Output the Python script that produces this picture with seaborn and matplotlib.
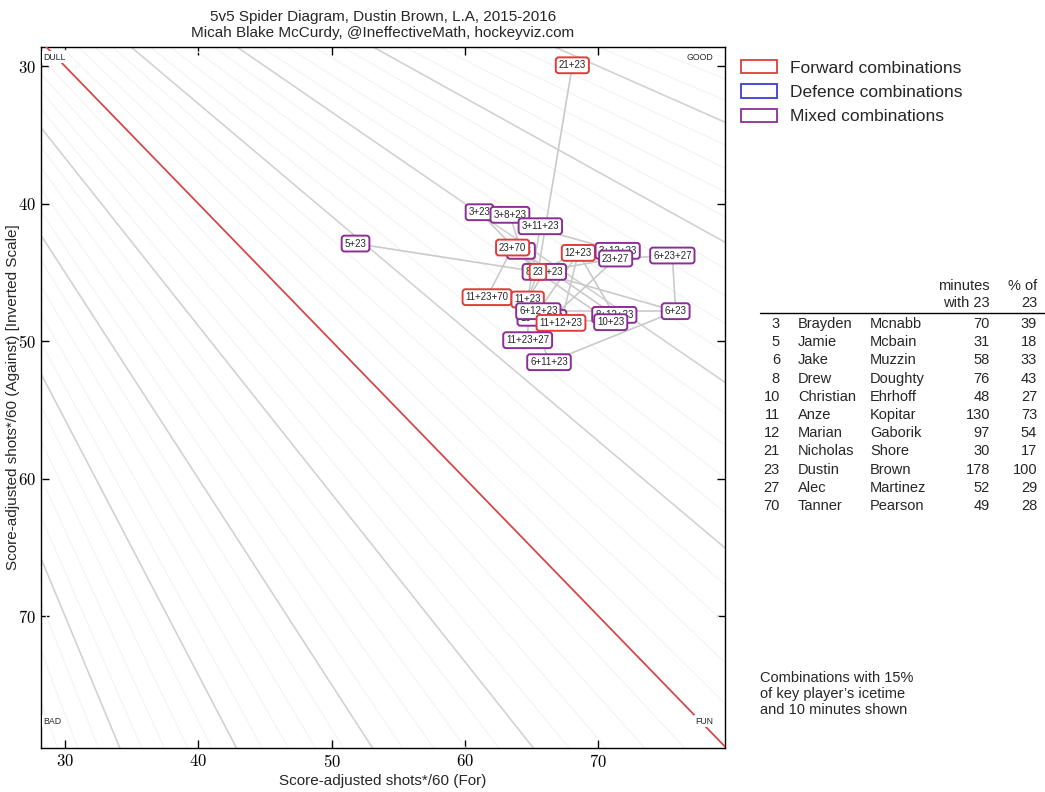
import numpy as np
import pandas as pd
import seaborn as sns
import matplotlib.pyplot as plt
from matplotlib.patches import Patch
from matplotlib.ticker import FixedLocator, FuncFormatter

# combinations of Dustin Brown (23) with teammates: label, shots for /60, shots against /60
combo_labels = ["21+23", "3+23", "3+8+23", "3+11+23", "5+23", "8+23", "23+70",
                "12+23", "3+12+23", "23+27", "6+23+27", "8+11+23", "23",
                "11+23+70", "11+23", "10+11+23", "6+12+23", "11+12+23",
                "8+12+23", "10+23", "6+23", "11+23+27", "6+11+23"]
combo_for = [68.05, 61.09, 63.37, 65.65, 51.79, 64.2, 63.57,
             68.5, 71.45, 71.3, 75.55, 65.95, 65.47,
             61.65, 64.7, 65.77, 65.5, 67.2,
             71.2, 70.93, 75.8, 64.7, 66.3]
combo_against = [29.93, 40.62, 40.81, 41.64, 42.9, 43.43, 43.19,
                 43.58, 43.43, 43.99, 43.77, 44.96, 44.96,
                 46.8, 46.97, 48.3, 47.82, 48.67,
                 48.09, 48.62, 47.82, 49.93, 51.53]

defencemen = [3, 5, 6, 8, 10, 27]

# table of teammates
jerseys = [3, 5, 6, 8, 10, 11, 12, 21, 23, 27, 70]
first_names = ["Brayden", "Jamie", "Jake", "Drew", "Christian", "Anze", "Marian",
               "Nicholas", "Dustin", "Alec", "Tanner"]
last_names = ["Mcnabb", "Mcbain", "Muzzin", "Doughty", "Ehrhoff", "Kopitar", "Gaborik",
              "Shore", "Brown", "Martinez", "Pearson"]
minutes_with = [70, 31, 58, 76, 48, 130, 97, 30, 178, 52, 49]
pct_of = [39, 18, 33, 43, 27, 73, 54, 17, 100, 29, 28]

# shot-share guide lines (through the origin)
share_major = [0.30, 0.35, 0.40, 0.45, 0.55, 0.60, 0.65, 0.70]
share_minor = np.arange(0.15, 0.86, 0.01)

RED = "#e03c3c"
BLUE = "#3c3cdc"
PURPLE = "#8c2d96"

sns.set_theme(style="ticks")
plt.rcParams["font.family"] = ["Liberation Sans", "DejaVu Sans"]
plt.rcParams["mathtext.fontset"] = "cm"

df = pd.DataFrame({"label": combo_labels, "sf": combo_for, "sa": combo_against})
df["players"] = df["label"].apply(lambda s: frozenset(int(p) for p in s.split("+")))


def combo_colour(players):
    d = [p in defencemen for p in players]
    if all(d):
        return BLUE
    if not any(d):
        return RED
    return PURPLE


df["colour"] = df["players"].apply(combo_colour)

# spider edges: each combination joined to the shown combinations one player smaller
index_of = {pl: i for i, pl in enumerate(df["players"])}
rows = []
for i, pl in enumerate(df["players"]):
    for p in pl:
        j = index_of.get(pl - {p})
        if j is not None:
            rows.append({"edge": f"{i}-{j}", "sf": df.sf[i], "sa": df.sa[i]})
            rows.append({"edge": f"{i}-{j}", "sf": df.sf[j], "sa": df.sa[j]})
edges = pd.DataFrame(rows)

fig = plt.figure(figsize=(10.45, 7.92), dpi=100)
ax = fig.add_axes([41 / 1045, 1 - 748 / 792, 684 / 1045, 701 / 792])

xs = np.array([0, 120])
for p in share_minor:
    if min(abs(p - m) for m in share_major + [0.5]) < 0.001:
        continue
    ax.plot(xs, xs * (1 - p) / p, color="#f3f3f3", lw=0.8, zorder=1)
for p in share_major:
    ax.plot(xs, xs * (1 - p) / p, color="#d2d2d2", lw=1.2, zorder=2)
ax.plot(xs, xs, color="#d64848", lw=1.3, zorder=3)

sns.lineplot(data=edges, x="sf", y="sa", units="edge", estimator=None,
             color="#cacaca", lw=1.2, ax=ax, zorder=4, sort=False)

for k, r in df.iterrows():
    ax.text(r.sf, r.sa, r.label, fontsize=7, ha="center", va="center", zorder=10 + k,
            bbox=dict(boxstyle="round,pad=0.3", fc="white", ec=r.colour, lw=1.4))

ax.set_xlim(28.2, 79.5)
ax.set_ylim(79.6, 28.6)

corner = dict(fontsize=6.3, zorder=6, transform=ax.transAxes,
              bbox=dict(fc="white", ec="none", pad=1))
ax.text(0.004, 0.992, "DULL", ha="left", va="top", **corner)
ax.text(0.983, 0.992, "GOOD", ha="right", va="top", **corner)
ax.text(0.004, 0.032, "BAD", ha="left", va="bottom", **corner)
ax.text(0.983, 0.032, "FUN", ha="right", va="bottom", **corner)

ticks = [30, 40, 50, 60, 70]
fmt = FuncFormatter(lambda v, pos: f"${v:.0f}$")
ax.xaxis.set_major_locator(FixedLocator(ticks))
ax.yaxis.set_major_locator(FixedLocator(ticks))
ax.xaxis.set_major_formatter(fmt)
ax.yaxis.set_major_formatter(fmt)
ax.tick_params(direction="in", top=True, right=True, length=6, width=1,
               labelsize=12, colors="black")
for s in ax.spines.values():
    s.set_color("black")
    s.set_linewidth(1)

ax.set_xlabel("Score-adjusted shots*/60 (For)", fontsize=11, labelpad=3)
ax.set_ylabel("Score-adjusted shots*/60 (Against) [Inverted Scale]", fontsize=11, labelpad=-1)
ax.set_title("5v5 Spider Diagram, Dustin Brown, L.A, 2015-2016\n"
             "Micah Blake McCurdy, @IneffectiveMath, hockeyviz.com", fontsize=11, pad=7)

handles = [Patch(fc="white", ec=RED, lw=1.3), Patch(fc="white", ec=BLUE, lw=1.3),
           Patch(fc="white", ec=PURPLE, lw=1.3)]
fig.legend(handles, ["Forward combinations", "Defence combinations", "Mixed combinations"],
           loc="upper left", bbox_to_anchor=(0.702, 0.933), frameon=False, fontsize=12.5,
           handlelength=2.1, handleheight=0.8, handletextpad=0.75, labelspacing=0.5,
           borderaxespad=0)

# teammate table
W, H = 1045, 792
tfs = 10.5
fig.text(990 / W, 1 - 286 / H, "minutes", ha="right", va="center", fontsize=tfs)
fig.text(990 / W, 1 - 303 / H, "with 23", ha="right", va="center", fontsize=tfs)
fig.text(1037 / W, 1 - 286 / H, "% of", ha="right", va="center", fontsize=tfs)
fig.text(1037 / W, 1 - 303 / H, "23", ha="right", va="center", fontsize=tfs)
fig.add_artist(plt.Line2D([760 / W, 1.0], [1 - 313 / H] * 2, color="black", lw=1))
for i in range(len(jerseys)):
    y = 1 - (324 + i * 18.2) / H
    fig.text(780 / W, y, str(jerseys[i]), ha="right", va="center", fontsize=tfs)
    fig.text(798 / W, y, first_names[i], ha="left", va="center", fontsize=tfs)
    fig.text(870 / W, y, last_names[i], ha="left", va="center", fontsize=tfs)
    fig.text(990 / W, y, str(minutes_with[i]), ha="right", va="center", fontsize=tfs)
    fig.text(1037 / W, y, str(pct_of[i]), ha="right", va="center", fontsize=tfs)

fig.text(760 / W, 1 - 671 / H, "Combinations with 15%\nof key player\u2019s icetime\nand 10 minutes shown",
         ha="left", va="top", fontsize=tfs, linespacing=1.2)

fig.savefig("out.png", dpi=100)
